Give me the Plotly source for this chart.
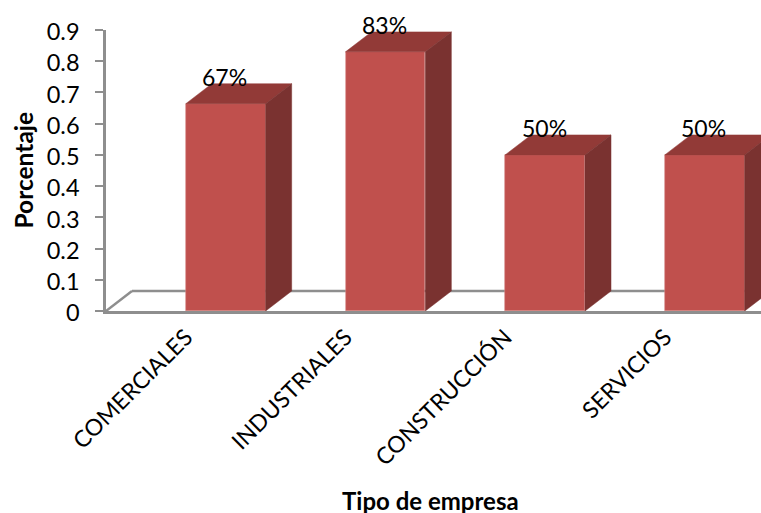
import plotly.graph_objects as go

categories = ["COMERCIALES", "INDUSTRIALES", "CONSTRUCCIÓN", "SERVICIOS"]
values = [0.664, 0.83, 0.5, 0.5]
labels = ["67%", "83%", "50%", "50%"]
y_ticks = [0, 0.1, 0.2, 0.3, 0.4, 0.5, 0.6, 0.7, 0.8, 0.9]

FONT = "Lato, Carlito, Calibri, sans-serif"
W, H = 761, 513
L, T, BASE = 106, 30, 311.5
CAT_PX = 159.67
Y_PX = (BASE - T) / 0.9
BAR_W = 0.5
DX = 26 / CAT_PX
DY = 20 / Y_PX
X_MIN = -0.5
X_MAX = X_MIN + (W - L) / CAT_PX

top_x, top_y, side_x, side_y = [], [], [], []
for i, v in enumerate(values):
    a, b = i, i + BAR_W
    top_x += [a, b, b + DX, a + DX, a, None]
    top_y += [v, v, v + DY, v + DY, v, None]
    side_x += [b, b + DX, b + DX, b, b, None]
    side_y += [0, DY, v + DY, v, 0, None]

fig = go.Figure()
fig.add_bar(x=list(range(4)), y=values, width=BAR_W, offset=0,
            marker=dict(color="#C0504D", line=dict(color="#D58A87", width=0.6)),
            showlegend=False, hoverinfo="skip")
fig.add_scatter(x=top_x, y=top_y, mode="lines", fill="toself", fillcolor="#923A37",
                line=dict(color="#923A37", width=0.5), showlegend=False, hoverinfo="skip")
fig.add_scatter(x=side_x, y=side_y, mode="lines", fill="toself", fillcolor="#7A3230",
                line=dict(color="#7A3230", width=0.5), showlegend=False, hoverinfo="skip")

GRAY = "#8E8E8E"
floor = dict(type="line", layer="below", line=dict(color=GRAY, width=2.5))
shapes = [
    dict(floor, x0=X_MIN, y0=0, x1=X_MIN + DX, y1=DY),
    dict(floor, x0=X_MIN + DX, y0=DY, x1=X_MAX, y1=DY),
]

annotations = [
    dict(x=i + BAR_W / 2, y=v, text=t, showarrow=False, yshift=26.5, xshift=-1, xanchor="center", yanchor="middle",
         font=dict(family=FONT, size=23, color="#000000"))
    for i, (v, t) in enumerate(zip(values, labels))
]
annotations += [
    dict(xref="paper", yref="paper", x=0, y=0.5, text="<b>Porcentaje</b>", textangle=-90, showarrow=False,
         xanchor="center", yanchor="middle", xshift=-83, yshift=0,
         font=dict(family=FONT, size=24.5, color="#000000")),
    dict(xref="paper", yref="paper", x=0.5, y=0, text="<b>Tipo de empresa</b>", showarrow=False,
         xanchor="center", yanchor="middle", xshift=-3, yshift=-189.5,
         font=dict(family=FONT, size=24, color="#000000")),
]

fig.update_layout(
    width=W, height=H, autosize=False,
    margin=dict(l=L, r=0, t=T, b=H - BASE, pad=0),
    paper_bgcolor="white", plot_bgcolor="white",
    shapes=shapes, annotations=annotations, bargap=0, showlegend=False,
)
fig.update_xaxes(type="linear", range=[X_MIN, X_MAX], tickmode="array",
                 tickvals=list(range(4)), ticktext=categories, tickangle=-45,
                 ticks="", showgrid=False, zeroline=False, showline=True,
                 linecolor=GRAY, linewidth=2.5, ticklabelstandoff=1,
                 tickfont=dict(family=FONT, size=23, color="#000000"))
fig.update_yaxes(range=[0, 0.9], tickmode="array", tickvals=y_ticks,
                 ticktext=[f"{t:g}" for t in y_ticks], ticks="outside", ticklen=8,
                 tickwidth=2, tickcolor=GRAY, showgrid=False, zeroline=False,
                 showline=True, linecolor=GRAY, linewidth=2.5,
                 ticklabelstandoff=11, ticklabelshift=2,
                 tickfont=dict(family=FONT, size=23.5, color="#000000"))

fig.write_html("out.html", config=dict(displayModeBar=False),
               post_script="document.body.style.margin='0';"
                           "document.documentElement.style.overflow='hidden';")
